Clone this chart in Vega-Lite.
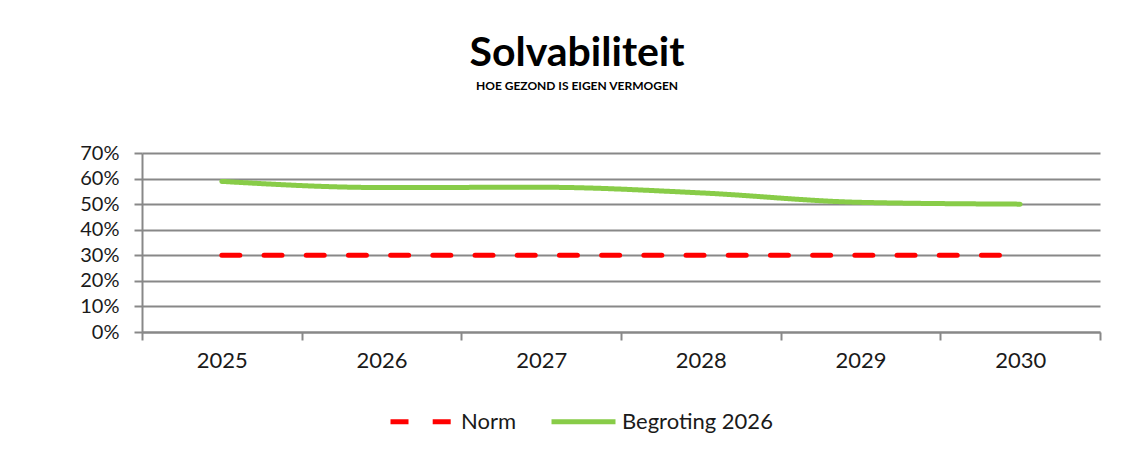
{
  "$schema": "https://vega.github.io/schema/vega-lite/v6.json",
  "autosize": {"type": "none"},
  "width": 958,
  "height": 179,
  "padding": {"left": 142, "top": 153, "right": 47, "bottom": 122},
  "background": "white",
  "title": {
    "text": "Solvabiliteit",
    "subtitle": "HOE GEZOND IS EIGEN VERMOGEN",
    "anchor": "middle",
    "frame": "group",
    "dx": -44,
    "offset": 50,
    "font": "Lato",
    "fontSize": 41,
    "fontWeight": "bold",
    "color": "#000000",
    "subtitleFont": "Lato",
    "subtitleFontSize": 12,
    "subtitleFontWeight": "bold",
    "subtitleColor": "#000000",
    "subtitlePadding": 6
  },
  "data": {
    "values": [
      {"year": "2025", "series": "Norm", "value": 0.30},
      {"year": "2026", "series": "Norm", "value": 0.30},
      {"year": "2027", "series": "Norm", "value": 0.30},
      {"year": "2028", "series": "Norm", "value": 0.30},
      {"year": "2029", "series": "Norm", "value": 0.30},
      {"year": "2030", "series": "Norm", "value": 0.30},
      {"year": "2025", "series": "Begroting 2026", "value": 0.589},
      {"year": "2026", "series": "Begroting 2026", "value": 0.565},
      {"year": "2027", "series": "Begroting 2026", "value": 0.566},
      {"year": "2028", "series": "Begroting 2026", "value": 0.544},
      {"year": "2029", "series": "Begroting 2026", "value": 0.507},
      {"year": "2030", "series": "Begroting 2026", "value": 0.500}
    ]
  },
  "mark": {"type": "line", "strokeWidth": 5, "interpolate": "monotone", "strokeCap": "round"},
  "encoding": {
    "x": {
      "field": "year",
      "type": "ordinal",
      "scale": {"type": "band", "paddingInner": 0, "paddingOuter": 0},
      "axis": {
        "title": null,
        "labelAngle": 0,
        "tickBand": "extent",
        "tickSize": 8,
        "tickWidth": 2,
        "tickColor": "#888888",
        "domainColor": "#888888",
        "domainWidth": 2,
        "labelFont": "Lato",
        "labelFontSize": 22,
        "labelColor": "#1a1a1a",
        "labelPadding": 10,
        "grid": false
      }
    },
    "y": {
      "field": "value",
      "type": "quantitative",
      "scale": {"domain": [0, 0.7], "nice": false},
      "axis": {
        "title": null,
        "values": [0, 0.1, 0.2, 0.3, 0.4, 0.5, 0.6, 0.7],
        "format": ".0%",
        "grid": true,
        "gridColor": "#888888",
        "gridWidth": 2,
        "gridOpacity": 1,
        "tickSize": 8,
        "tickWidth": 2,
        "tickColor": "#888888",
        "domainColor": "#888888",
        "domainWidth": 2,
        "labelFont": "Lato",
        "labelFontSize": 20,
        "labelColor": "#1a1a1a",
        "labelPadding": 15
      }
    },
    "color": {
      "field": "series",
      "type": "nominal",
      "sort": ["Norm", "Begroting 2026"],
      "scale": {"domain": ["Norm", "Begroting 2026"], "range": ["#FF0000", "#88CC48"]},
      "legend": {
        "title": null,
        "orient": "none",
        "direction": "horizontal",
        "legendX": 246,
        "legendY": 234,
        "symbolType": "stroke",
        "symbolSize": 4096,
        "symbolStrokeWidth": 5,
        "labelFont": "Lato",
        "labelFontSize": 22,
        "labelColor": "#1a1a1a",
        "labelOffset": 4,
        "columnPadding": 24
      }
    },
    "strokeDash": {
      "field": "series",
      "type": "nominal",
      "sort": ["Norm", "Begroting 2026"],
      "scale": {"domain": ["Norm", "Begroting 2026"], "range": [[18, 24.2], [1, 0]]},
      "legend": {
        "title": null,
        "orient": "none",
        "direction": "horizontal",
        "legendX": 246,
        "legendY": 234,
        "symbolType": "stroke",
        "symbolSize": 4096,
        "symbolStrokeWidth": 5,
        "labelFont": "Lato",
        "labelFontSize": 22,
        "labelColor": "#1a1a1a",
        "labelOffset": 4,
        "columnPadding": 24
      }
    }
  },
  "config": {
    "view": {"stroke": null}
  }
}
